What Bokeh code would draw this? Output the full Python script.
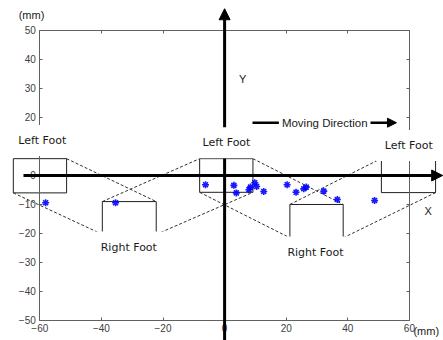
from bokeh.plotting import figure
from bokeh.models import (Range1d, LinearAxis, FixedTicker, Arrow, NormalHead, Label,
                          CustomJSTickFormatter)
from bokeh.embed import file_html
from bokeh.resources import INLINE

# ---------------- data (mm) ----------------
step_x = [-58.1, -35.4, -6.2, 3.0, 3.8, 7.9, 8.4, 9.8, 10.4, 12.7,
          20.3, 23.2, 25.7, 26.5, 32.2, 36.6, 48.7]
step_y = [-9.4, -9.4, -3.2, -3.4, -6.0, -4.9, -4.0, -2.5, -3.8, -5.5,
          -3.2, -5.8, -4.6, -4.0, -5.4, -8.3, -8.6]

x_ticks = [-60, -40, -20, 0, 20, 40, 60]
y_ticks = [-50, -40, -30, -20, -10, 0, 10, 20, 30, 40, 50]

foot_names = ["Left Foot", "Right Foot", "Left Foot", "Right Foot", "Left Foot"]
foot_left = [-68.6, -39.7, -8.1, 21.2, 50.9]
foot_right = [-51.3, -22.2, 9.2, 38.5, 68.5]
foot_top = [5.8, -9.0, 5.8, -10.0, 5.9]
foot_bottom = [-6.0, -20.3, -5.8, -21.5, -5.9]

# ---------------- layout ----------------
foot_label_x = [-59.2, -31.1, 0.6, 29.5, 59.8]
foot_label_y = [12.1, -24.7, 11.3, -26.4, 10.3]

p = figure(width=443, height=340,
           x_range=Range1d(-72.76, 71.07), y_range=Range1d(-56.9, 60.34),
           x_axis_location=None, y_axis_location=None,
           toolbar_location=None, output_backend="svg", min_border=0)
p.min_border_left = p.min_border_right = p.min_border_top = p.min_border_bottom = 0
p.outline_line_color = None
p.grid.grid_line_color = None
p.background_fill_color = "white"
p.border_fill_color = "white"

AX = "#606060"
TICK_FONT = "Liberation Sans"


def style_axis(ax, show_labels):
    ax.axis_line_color = AX
    ax.axis_line_width = 1
    ax.major_tick_line_color = AX
    ax.major_tick_in = 3
    ax.major_tick_out = 0
    ax.minor_tick_line_color = None
    ax.major_label_text_font = TICK_FONT
    ax.major_label_text_font_size = "10px"
    ax.major_label_text_color = "#404040"
    ax.major_label_standoff = 4
    if not show_labels:
        ax.formatter = CustomJSTickFormatter(code="return ''")


bottom = LinearAxis(fixed_location=-50, bounds=(-60, 60), ticker=FixedTicker(ticks=x_ticks))
style_axis(bottom, True)
p.add_layout(bottom, "below")

top = LinearAxis(fixed_location=50, bounds=(-60, 60), ticker=FixedTicker(ticks=x_ticks))
style_axis(top, False)
p.add_layout(top, "above")

left = LinearAxis(fixed_location=-60, bounds=(-50, 50), ticker=FixedTicker(ticks=y_ticks))
style_axis(left, True)
p.add_layout(left, "left")

right = LinearAxis(fixed_location=60, bounds=(-50, 50), ticker=FixedTicker(ticks=y_ticks))
style_axis(right, False)
p.add_layout(right, "right")

# footprint boxes
p.quad(left=foot_left, right=foot_right, top=foot_top, bottom=foot_bottom,
       fill_color=None, line_color="#202020", line_width=1)

# dashed trail lines between consecutive footprints
xs, ys = [], []
for i in range(len(foot_names) - 1):
    a, b = i, i + 1
    if foot_names[a] == "Left Foot":
        xs.append([foot_right[a], foot_right[b]]); ys.append([foot_top[a], foot_top[b]])
        xs.append([foot_left[a], foot_left[b]]); ys.append([foot_bottom[a], foot_bottom[b]])
    else:
        xs.append([foot_left[a], foot_left[b]]); ys.append([foot_top[a], foot_top[b]])
        xs.append([foot_right[a], foot_right[b]]); ys.append([foot_bottom[a], foot_bottom[b]])
p.multi_line(xs, ys, line_color="#303030", line_width=1, line_dash="3 2")

# step points
p.scatter(step_x, step_y, marker="asterisk", size=7, line_color="#0000ff",
          line_width=1.6, line_alpha=0.9)

# coordinate arrows
p.add_layout(Arrow(end=NormalHead(size=11, fill_color="black", line_color="black"),
                   x_start=-65.3, y_start=0, x_end=70.8, y_end=0,
                   line_color="black", line_width=3))
p.add_layout(Arrow(end=NormalHead(size=11, fill_color="black", line_color="black"),
                   x_start=0, y_start=-56.9, x_end=0, y_end=57.5,
                   line_color="black", line_width=3))
p.add_layout(Arrow(end=NormalHead(size=9, fill_color="black", line_color="black"),
                   x_start=9.06, y_start=18.2, x_end=55.8, y_end=18.2,
                   line_color="black", line_width=2.5))

# labels
p.add_layout(Label(x=32.5, y=18.2, text="Moving Direction", text_align="center",
                   text_baseline="middle", text_font="Liberation Sans",
                   text_font_size="11.5px", text_color="#1a1a1a",
                   background_fill_color="white", padding=3))
for name, lx, ly in zip(foot_names, foot_label_x, foot_label_y):
    p.add_layout(Label(x=lx, y=ly, text=name, text_align="center", text_baseline="middle",
                       text_font="DejaVu Sans", text_font_size="11px", text_color="#1a1a1a",
                       background_fill_color="white", padding=9))

p.add_layout(Label(x=5.9, y=33.1, text="Y", text_align="center", text_baseline="middle",
                   text_font="Liberation Sans", text_font_size="11px", text_color="#1a1a1a"))
p.add_layout(Label(x=66.1, y=-12.4, text="X", text_align="center", text_baseline="middle",
                   text_font="Liberation Sans", text_font_size="11px", text_color="#1a1a1a"))
p.add_layout(Label(x=-62.7, y=55.2, text="(mm)", text_align="center", text_baseline="middle",
                   text_font="Liberation Sans", text_font_size="11px", text_color="#1a1a1a"))
p.add_layout(Label(x=61.3, y=-53.5, text="(mm)", text_align="left", text_baseline="middle",
                   text_font="Liberation Sans", text_font_size="11px", text_color="#1a1a1a"))

open("out.html", "w").write(file_html(p, INLINE))
